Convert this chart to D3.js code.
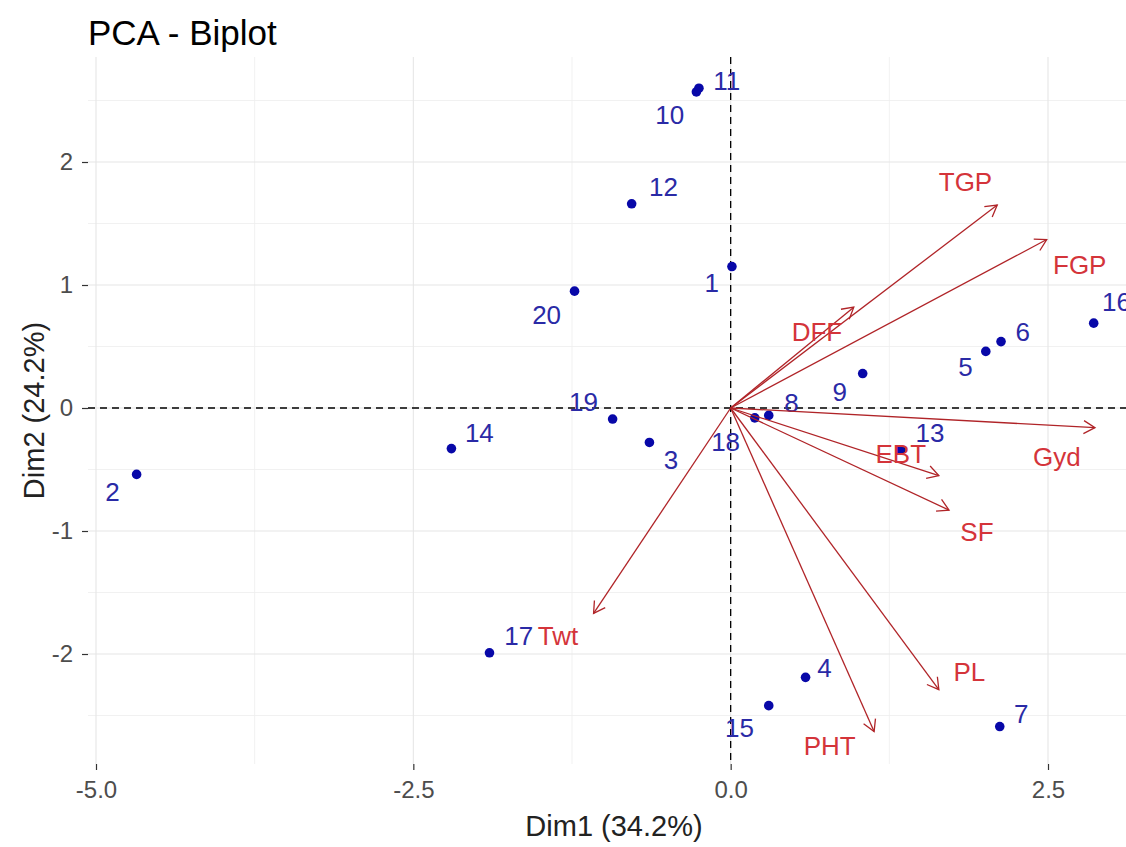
<!DOCTYPE html>
<html>
<head>
<meta charset="utf-8">
<script src="https://cdn.jsdelivr.net/npm/d3@7"></script>
<style>
  html, body { margin: 0; padding: 0; background: #fff; }
  svg { display: block; font-family: "Liberation Sans", Arial, sans-serif; }
</style>
</head>
<body>
<svg id="chart" width="1126" height="847"></svg>
<script>
// ---------------- Data ----------------
const indNames = ["1","2","3","4","5","6","7","8","9","10","11","12","13","14","15","16","17","18","19","20"];
const indDim1  = [0.01,-4.68,-0.64,0.59,2.01,2.13,2.12,0.30,1.04,-0.27,-0.25,-0.78,1.34,-2.20,0.30,2.86,-1.90,0.19,-0.93,-1.23];
const indDim2  = [1.15,-0.54,-0.28,-2.19,0.46,0.54,-2.59,-0.06,0.28,2.57,2.60,1.66,-0.34,-0.33,-2.42,0.69,-1.99,-0.08,-0.09,0.95];
// repelled label anchors (data units)
const indLabX  = [-0.15,-4.87,-0.47,0.74,1.85,2.30,2.29,0.48,0.86,-0.48,-0.03,-0.53,1.57,-1.98,0.07,3.04,-1.67,-0.04,-1.16,-1.45];
const indLabY  = [1.02,-0.68,-0.42,-2.11,0.33,0.62,-2.49,0.04,0.13,2.38,2.66,1.80,-0.20,-0.20,-2.60,0.86,-1.85,-0.28,0.05,0.76];

const varNames = ["TGP","FGP","DFF","Gyd","EBT","SF","PL","PHT","Twt"];
const varDim1  = [2.10,2.49,0.97,2.87,1.64,1.72,1.64,1.13,-1.08];
const varDim2  = [1.65,1.37,0.82,-0.16,-0.55,-0.83,-2.29,-2.63,-1.67];
const varLabX  = [1.85,2.75,0.68,2.57,1.34,1.94,1.88,0.78,-1.36];
const varLabY  = [1.84,1.16,0.62,-0.40,-0.37,-1.01,-2.15,-2.75,-1.85];

const xTicks = [-5.0,-2.5,0.0,2.5];
const yTicks = [-2,-1,0,1,2];
const xMinor = [-3.75,-1.25,1.25,3.75];
const yMinor = [-2.5,-1.5,-0.5,0.5,1.5,2.5];

const titleText = "PCA - Biplot";
const xTitle = "Dim1 (34.2%)";
const yTitle = "Dim2 (24.2%)";

// ---------------- Layout ----------------
const panel = {left: 88, right: 1140, top: 57, bottom: 764};
const x = d3.scaleLinear().domain([-5, 2.5]).range([96, 1048]);
const y = d3.scaleLinear().domain([2, -2]).range([162, 654]);

const svg = d3.select("#chart");
const indColor = "#0808A8", indLabColor = "#2A2AA6";
const varColor = "#B02428", varLabColor = "#D4343A";

svg.append("defs").append("clipPath").attr("id","clip")
  .append("rect").attr("x", panel.left).attr("y", panel.top)
  .attr("width", panel.right - panel.left).attr("height", panel.bottom - panel.top);

const grid = svg.append("g").attr("clip-path","url(#clip)");
// minor grid
grid.selectAll(".vminor").data(xMinor).join("line")
  .attr("x1", d => x(d)).attr("x2", d => x(d))
  .attr("y1", panel.top).attr("y2", panel.bottom)
  .attr("stroke", "#EDEDED").attr("stroke-width", 0.8);
grid.selectAll(".hminor").data(yMinor).join("line")
  .attr("y1", d => y(d)).attr("y2", d => y(d))
  .attr("x1", panel.left).attr("x2", panel.right)
  .attr("stroke", "#EDEDED").attr("stroke-width", 0.8);
// major grid
grid.selectAll(".vmajor").data(xTicks).join("line")
  .attr("x1", d => x(d)).attr("x2", d => x(d))
  .attr("y1", panel.top).attr("y2", panel.bottom)
  .attr("stroke", "#E6E6E6").attr("stroke-width", 1.1);
grid.selectAll(".hmajor").data(yTicks).join("line")
  .attr("y1", d => y(d)).attr("y2", d => y(d))
  .attr("x1", panel.left).attr("x2", panel.right)
  .attr("stroke", "#E6E6E6").attr("stroke-width", 1.1);

// axes (ticks + labels)
const xAxis = svg.append("g").attr("transform", `translate(0,${panel.bottom})`)
  .call(d3.axisBottom(x).tickValues(xTicks).tickFormat(d3.format(".1f")).tickSize(6).tickPadding(11));
const yAxis = svg.append("g").attr("transform", `translate(${panel.left},0)`)
  .call(d3.axisLeft(y).tickValues(yTicks).tickFormat(d3.format("d")).tickSize(6).tickPadding(9));
[xAxis, yAxis].forEach(a => {
  a.select(".domain").remove();
  a.selectAll(".tick line").attr("stroke", "#333").attr("stroke-width", 1.2);
  a.selectAll(".tick text").attr("fill", "#4D4D4D").style("font-size", "24px")
    .style("font-family", "'Liberation Sans', Arial, sans-serif");
});
xAxis.selectAll(".tick text").text(d => d3.format(".1f")(d).replace("\u2212","-"));
yAxis.selectAll(".tick text").text(d => String(d));

// dashed reference lines
const plot = svg.append("g").attr("clip-path","url(#clip)");
plot.append("line").attr("x1", panel.left).attr("x2", panel.right)
  .attr("y1", y(0)).attr("y2", y(0))
  .attr("stroke", "#000").attr("stroke-width", 1.3).attr("stroke-dasharray", "7,5");
plot.append("line").attr("x1", x(0)).attr("x2", x(0))
  .attr("y1", panel.top).attr("y2", panel.bottom)
  .attr("stroke", "#000").attr("stroke-width", 1.3).attr("stroke-dasharray", "7,5");

// individuals
const inds = indNames.map((n, i) => ({name: n, d1: indDim1[i], d2: indDim2[i], lx: indLabX[i], ly: indLabY[i]}));
plot.selectAll(".pt").data(inds).join("circle")
  .attr("cx", d => x(d.d1)).attr("cy", d => y(d.d2)).attr("r", 4.8)
  .attr("fill", indColor);
plot.selectAll(".ptlab").data(inds).join("text")
  .attr("x", d => x(d.lx)).attr("y", d => y(d.ly))
  .attr("text-anchor", "middle").attr("dominant-baseline", "central")
  .attr("fill", indLabColor).style("font-size", "26px")
  .text(d => d.name);

// variables (arrows)
const vars = varNames.map((n, i) => ({name: n, d1: varDim1[i], d2: varDim2[i], lx: varLabX[i], ly: varLabY[i]}));
const arrows = plot.selectAll(".arr").data(vars).join("g");
arrows.append("line")
  .attr("x1", x(0)).attr("y1", y(0))
  .attr("x2", d => x(d.d1)).attr("y2", d => y(d.d2))
  .attr("stroke", varColor).attr("stroke-width", 1.3);
arrows.append("path")
  .attr("d", d => {
    const x0 = x(0), y0 = y(0), x1 = x(d.d1), y1 = y(d.d2);
    const ang = Math.atan2(y1 - y0, x1 - x0);
    const L = 13, a = Math.PI / 6;
    const p1 = [x1 - L * Math.cos(ang - a), y1 - L * Math.sin(ang - a)];
    const p2 = [x1 - L * Math.cos(ang + a), y1 - L * Math.sin(ang + a)];
    return `M${p1[0]},${p1[1]}L${x1},${y1}L${p2[0]},${p2[1]}`;
  })
  .attr("fill", "none").attr("stroke", varColor).attr("stroke-width", 1.3);
plot.selectAll(".varlab").data(vars).join("text")
  .attr("x", d => x(d.lx)).attr("y", d => y(d.ly))
  .attr("text-anchor", "middle").attr("dominant-baseline", "central")
  .attr("fill", varLabColor).style("font-size", "26px")
  .text(d => d.name);

// titles
svg.append("text").attr("x", 88).attr("y", 45)
  .attr("fill", "#000").style("font-size", "35px").text(titleText);
svg.append("text").attr("x", (panel.left + panel.right) / 2).attr("y", 836)
  .attr("text-anchor", "middle").attr("fill", "#222").style("font-size", "29px").text(xTitle);
svg.append("text").attr("transform", `translate(44,${(panel.top + panel.bottom) / 2}) rotate(-90)`)
  .attr("text-anchor", "middle").attr("fill", "#222").style("font-size", "29px").text(yTitle);
</script>
</body>
</html>
